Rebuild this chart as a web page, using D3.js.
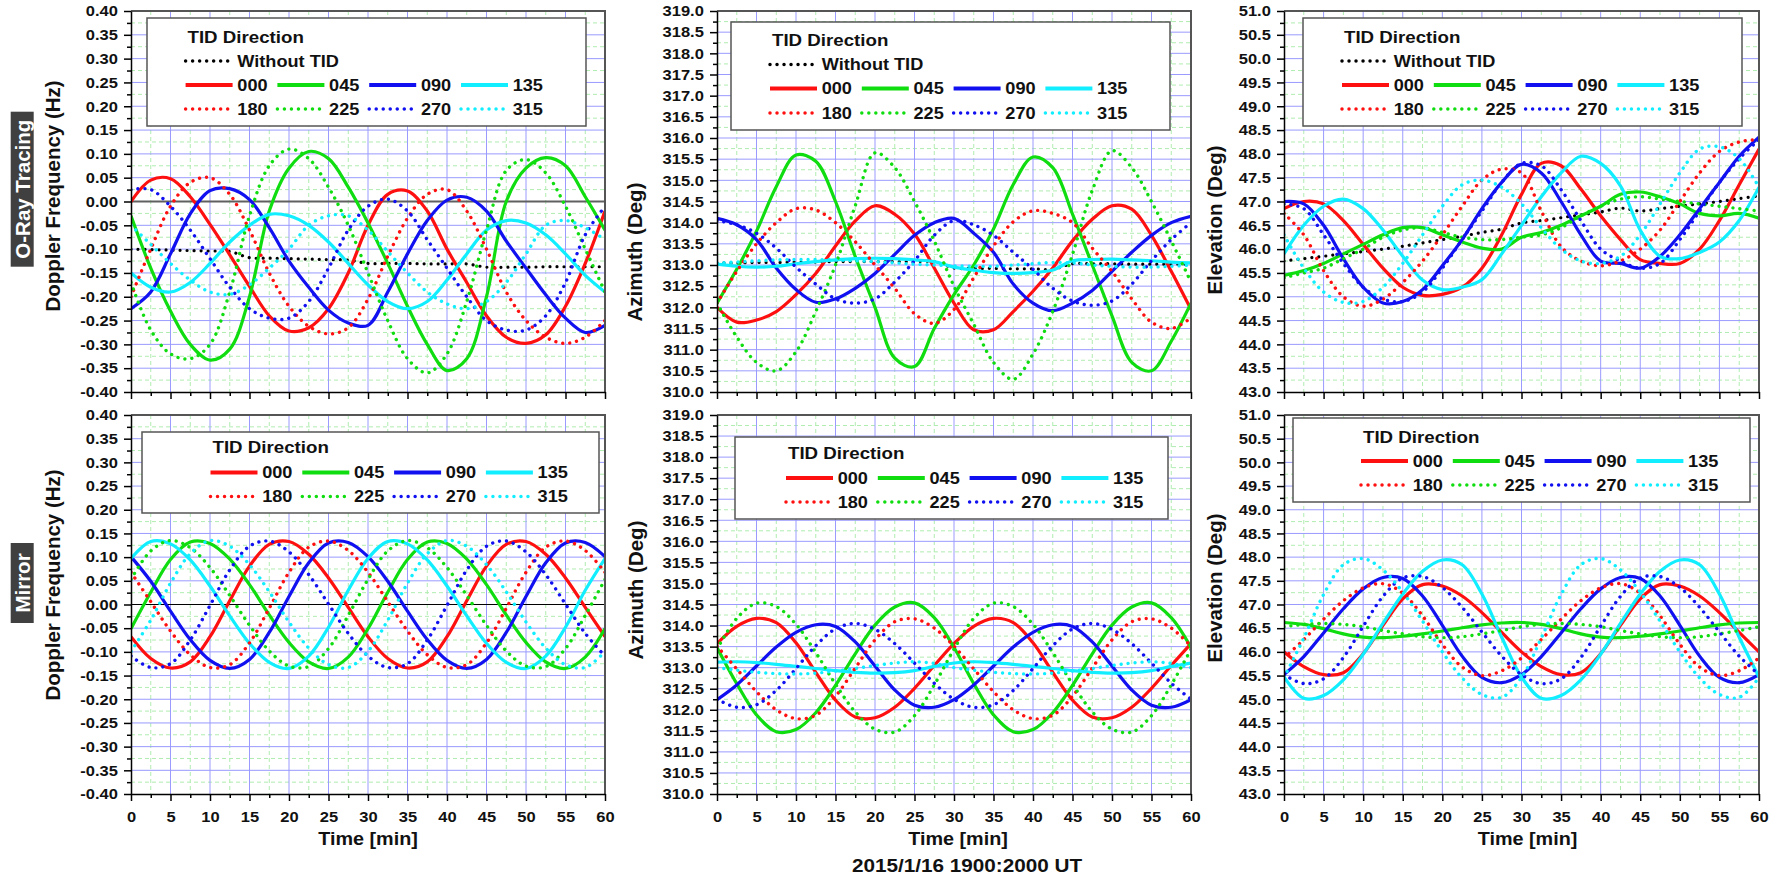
<!DOCTYPE html>
<html>
<head>
<meta charset="utf-8">
<script src="https://cdn.jsdelivr.net/npm/d3@7"></script>
<style>
  body { margin: 0; background: #fff; }
  svg { display: block; font-family: "Liberation Sans", Arial, sans-serif; font-weight: bold; }
</style>
</head>
<body>
<svg id="chart" width="1783" height="876"></svg>
<script>
// sample times (min)
const minutes = [0, 2.5, 5, 7.5, 10, 12.5, 15, 17.5, 20, 22.5, 25, 27.5, 30, 32.5, 35, 37.5, 40, 42.5, 45, 47.5, 50, 52.5, 55, 57.5, 60];
const directions = ["000", "045", "090", "135", "180", "225", "270", "315"];

// tick labels
const timeTicks = [0, 5, 10, 15, 20, 25, 30, 35, 40, 45, 50, 55, 60];
const dopplerTicks = [-0.40, -0.35, -0.30, -0.25, -0.20, -0.15, -0.10, -0.05, 0.00, 0.05, 0.10, 0.15, 0.20, 0.25, 0.30, 0.35, 0.40];
const azimuthTicks = [310.0, 310.5, 311.0, 311.5, 312.0, 312.5, 313.0, 313.5, 314.0, 314.5, 315.0, 315.5, 316.0, 316.5, 317.0, 317.5, 318.0, 318.5, 319.0];
const elevationTicks = [43.0, 43.5, 44.0, 44.5, 45.0, 45.5, 46.0, 46.5, 47.0, 47.5, 48.0, 48.5, 49.0, 49.5, 50.0, 50.5, 51.0];

// O-ray tracing, one row per direction (000 ... 315)
const rayDoppler = [
  [0.000, 0.045, 0.048, 0.010, -0.048, -0.112, -0.178, -0.240, -0.272, -0.265, -0.225, -0.150, -0.050, 0.015, 0.022, -0.020, -0.100, -0.170, -0.240, -0.285, -0.298, -0.280, -0.220, -0.130, -0.020],
  [-0.030, -0.140, -0.230, -0.300, -0.333, -0.310, -0.200, -0.020, 0.070, 0.105, 0.090, 0.030, -0.045, -0.130, -0.220, -0.300, -0.355, -0.330, -0.200, 0.000, 0.070, 0.092, 0.075, 0.010, -0.060],
  [-0.225, -0.190, -0.110, -0.026, 0.023, 0.027, 0.004, -0.055, -0.125, -0.180, -0.228, -0.255, -0.260, -0.190, -0.110, -0.040, 0.003, 0.009, -0.020, -0.083, -0.140, -0.196, -0.245, -0.275, -0.260],
  [-0.150, -0.180, -0.190, -0.170, -0.130, -0.085, -0.050, -0.027, -0.030, -0.050, -0.085, -0.130, -0.175, -0.210, -0.225, -0.210, -0.165, -0.110, -0.060, -0.040, -0.045, -0.070, -0.110, -0.155, -0.190],
  [-0.200, -0.100, -0.010, 0.040, 0.050, 0.015, -0.060, -0.150, -0.220, -0.262, -0.278, -0.265, -0.205, -0.115, -0.035, 0.015, 0.025, -0.020, -0.100, -0.190, -0.250, -0.285, -0.298, -0.285, -0.250],
  [-0.170, -0.270, -0.320, -0.330, -0.300, -0.190, -0.030, 0.075, 0.110, 0.090, 0.030, -0.050, -0.150, -0.250, -0.330, -0.360, -0.320, -0.210, -0.060, 0.065, 0.088, 0.060, -0.010, -0.100, -0.190],
  [0.025, 0.025, -0.010, -0.060, -0.120, -0.180, -0.225, -0.245, -0.245, -0.210, -0.140, -0.060, -0.010, 0.005, -0.020, -0.080, -0.140, -0.200, -0.250, -0.270, -0.270, -0.240, -0.170, -0.070, -0.010],
  [-0.050, -0.090, -0.130, -0.165, -0.190, -0.195, -0.175, -0.140, -0.100, -0.050, -0.030, -0.030, -0.060, -0.105, -0.150, -0.190, -0.215, -0.225, -0.210, -0.170, -0.110, -0.050, -0.040, -0.055, -0.080]
];
const rayDopplerNoTid = [-0.100, -0.101, -0.102, -0.103, -0.104, -0.105, -0.118, -0.119, -0.120, -0.121, -0.122, -0.123, -0.130, -0.130, -0.130, -0.131, -0.131, -0.131, -0.138, -0.138, -0.138, -0.137, -0.137, -0.137, -0.137];

const rayAzimuth = [
  [312.00, 311.65, 311.70, 311.90, 312.30, 312.80, 313.45, 314.04, 314.40, 314.20, 313.73, 312.93, 312.10, 311.47, 311.47, 311.90, 312.38, 312.93, 313.57, 314.08, 314.40, 314.32, 313.70, 312.85, 311.95],
  [312.10, 312.90, 313.80, 314.85, 315.60, 315.45, 314.50, 313.20, 312.00, 310.80, 310.60, 311.50, 312.30, 313.00, 313.85, 314.90, 315.55, 315.30, 314.20, 313.00, 311.80, 310.70, 310.50, 311.20, 312.10],
  [314.10, 313.95, 313.60, 312.93, 312.42, 312.12, 312.20, 312.45, 312.80, 313.25, 313.70, 314.00, 314.10, 313.75, 313.30, 312.55, 312.10, 311.92, 312.10, 312.40, 312.85, 313.30, 313.70, 314.00, 314.15],
  [313.02, 312.97, 312.95, 312.97, 313.03, 313.08, 313.12, 313.15, 313.16, 313.15, 313.12, 313.08, 312.95, 312.88, 312.82, 312.80, 312.82, 312.88, 313.10, 313.13, 313.14, 313.12, 313.10, 313.07, 313.05],
  [312.10, 312.85, 313.50, 314.00, 314.33, 314.30, 314.00, 313.55, 313.00, 312.45, 311.85, 311.62, 311.95, 312.70, 313.45, 314.02, 314.28, 314.22, 314.00, 313.40, 312.85, 312.20, 311.65, 311.50, 311.75],
  [312.10, 311.30, 310.70, 310.50, 310.95, 311.90, 313.00, 314.40, 315.65, 315.30, 314.50, 313.57, 312.50, 311.60, 310.70, 310.30, 310.90, 311.90, 313.25, 314.76, 315.70, 315.30, 314.50, 313.57, 312.60],
  [314.05, 313.95, 313.75, 313.40, 312.95, 312.55, 312.20, 312.10, 312.20, 312.60, 313.10, 313.70, 314.05, 313.95, 313.70, 313.30, 312.90, 312.45, 312.15, 312.05, 312.15, 312.55, 313.10, 313.60, 314.00],
  [313.05, 313.07, 313.10, 313.12, 313.13, 313.13, 313.12, 313.10, 313.08, 313.05, 313.02, 313.00, 312.98, 312.97, 312.97, 313.00, 313.03, 313.06, 313.05, 313.00, 312.97, 312.95, 312.95, 312.97, 313.00]
];
const rayAzimuthNoTid = [313.05, 313.05, 313.06, 313.06, 313.07, 313.07, 313.08, 313.08, 313.08, 313.08, 313.08, 313.08, 312.93, 312.92, 312.92, 312.91, 312.91, 312.90, 313.03, 313.03, 313.03, 313.02, 313.02, 313.02, 313.02];

const rayElevation = [
  [46.85, 47.00, 46.95, 46.60, 46.10, 45.60, 45.20, 45.03, 45.05, 45.20, 45.60, 46.30, 47.15, 47.80, 47.75, 47.26, 46.70, 46.20, 45.78, 45.70, 45.70, 46.00, 46.60, 47.35, 48.10],
  [45.45, 45.55, 45.70, 45.90, 46.10, 46.30, 46.45, 46.45, 46.30, 46.15, 46.02, 46.00, 46.25, 46.35, 46.50, 46.70, 46.90, 47.15, 47.20, 47.10, 46.95, 46.75, 46.70, 46.75, 46.65],
  [47.00, 46.95, 46.50, 45.80, 45.20, 44.87, 44.90, 45.15, 45.65, 46.20, 46.85, 47.40, 47.78, 47.60, 47.00, 46.30, 45.75, 45.70, 45.60, 45.85, 46.30, 46.85, 47.40, 47.95, 48.35],
  [45.90, 46.50, 46.90, 47.05, 46.85, 46.40, 45.85, 45.35, 45.15, 45.20, 45.36, 45.90, 46.50, 47.10, 47.60, 47.95, 47.80, 47.33, 46.40, 45.85, 45.80, 45.93, 46.15, 46.60, 47.30],
  [46.75, 46.30, 45.55, 45.00, 44.80, 44.95, 45.30, 45.75, 46.30, 46.90, 47.45, 47.68, 47.60, 46.80, 46.05, 45.75, 45.65, 45.75, 46.00, 46.40, 47.00, 47.60, 48.05, 48.25, 48.30],
  [45.40, 45.50, 45.60, 45.80, 46.00, 46.25, 46.40, 46.45, 46.35, 46.25, 46.20, 46.20, 46.25, 46.30, 46.45, 46.70, 46.90, 47.05, 47.10, 47.05, 47.00, 46.95, 46.90, 46.85, 46.80],
  [46.95, 46.85, 46.30, 45.70, 45.20, 44.95, 44.90, 45.10, 45.60, 46.20, 46.80, 47.40, 47.80, 47.75, 47.25, 46.60, 46.00, 45.75, 45.60, 45.70, 46.20, 46.80, 47.40, 47.90, 48.30],
  [46.30, 45.60, 45.10, 44.88, 44.90, 45.20, 45.70, 46.30, 46.90, 47.35, 47.45, 47.30, 46.95, 46.45, 46.00, 45.75, 45.70, 45.85, 46.30, 46.95, 47.60, 48.10, 48.15, 47.90, 47.30]
];
const rayElevationNoTid = [45.75, 45.80, 45.85, 45.90, 45.95, 46.00, 46.06, 46.13, 46.20, 46.27, 46.35, 46.42, 46.55, 46.60, 46.66, 46.72, 46.78, 46.86, 46.80, 46.85, 46.90, 46.95, 47.00, 47.06, 47.12];

// Mirror model
const mirrorDoppler = [
  [-0.068, -0.114, -0.134, -0.121, -0.068, 0.008, 0.081, 0.127, 0.133, 0.106, 0.056, -0.006, -0.068, -0.114, -0.134, -0.121, -0.068, 0.008, 0.081, 0.127, 0.133, 0.106, 0.056, -0.006, -0.068],
  [-0.051, 0.026, 0.095, 0.132, 0.129, 0.096, 0.042, -0.022, -0.080, -0.121, -0.135, -0.111, -0.051, 0.026, 0.095, 0.132, 0.129, 0.096, 0.042, -0.022, -0.080, -0.121, -0.135, -0.111, -0.051],
  [0.101, 0.049, -0.014, -0.074, -0.118, -0.135, -0.116, -0.059, 0.017, 0.088, 0.130, 0.131, 0.101, 0.049, -0.014, -0.074, -0.118, -0.135, -0.116, -0.059, 0.017, 0.088, 0.130, 0.131, 0.101],
  [0.097, 0.133, 0.128, 0.094, 0.039, -0.024, -0.082, -0.122, -0.135, -0.109, -0.048, 0.030, 0.097, 0.133, 0.128, 0.094, 0.039, -0.024, -0.082, -0.122, -0.135, -0.109, -0.048, 0.030, 0.097],
  [0.068, 0.006, -0.056, -0.106, -0.133, -0.127, -0.081, -0.008, 0.068, 0.121, 0.134, 0.114, 0.068, 0.006, -0.056, -0.106, -0.133, -0.127, -0.081, -0.008, 0.068, 0.121, 0.134, 0.114, 0.068],
  [0.053, 0.113, 0.135, 0.120, 0.078, 0.019, -0.044, -0.098, -0.130, -0.131, -0.093, -0.023, 0.053, 0.113, 0.135, 0.120, 0.078, 0.019, -0.044, -0.098, -0.130, -0.131, -0.093, -0.023, 0.053],
  [-0.109, -0.133, -0.125, -0.075, -0.002, 0.073, 0.123, 0.134, 0.111, 0.063, 0.001, -0.061, -0.109, -0.133, -0.125, -0.075, -0.002, 0.073, 0.123, 0.134, 0.111, 0.063, 0.001, -0.061, -0.109],
  [-0.099, -0.033, 0.045, 0.107, 0.135, 0.123, 0.084, 0.027, -0.037, -0.092, -0.127, -0.133, -0.099, -0.033, 0.045, 0.107, 0.135, 0.123, 0.084, 0.027, -0.037, -0.092, -0.127, -0.133, -0.099]
];

const mirrorAzimuth = [
  [313.57, 313.98, 314.17, 314.07, 313.59, 312.89, 312.23, 311.83, 311.81, 312.06, 312.51, 313.05, 313.57, 313.98, 314.17, 314.07, 313.59, 312.89, 312.23, 311.83, 311.81, 312.06, 312.51, 313.05, 313.57],
  [313.48, 312.62, 311.88, 311.48, 311.53, 311.93, 312.58, 313.33, 314.01, 314.44, 314.54, 314.19, 313.48, 312.62, 311.88, 311.48, 311.53, 311.93, 312.58, 313.33, 314.01, 314.44, 314.54, 314.19, 313.48],
  [312.24, 312.59, 313.04, 313.49, 313.84, 314.02, 313.98, 313.61, 313.04, 312.47, 312.11, 312.06, 312.24, 312.59, 313.04, 313.49, 313.84, 314.02, 313.98, 313.61, 313.04, 312.47, 312.11, 312.06, 312.24],
  [313.13, 313.14, 313.12, 313.08, 313.03, 312.98, 312.93, 312.89, 312.87, 312.88, 312.93, 313.03, 313.11, 313.14, 313.12, 313.08, 313.03, 312.98, 312.93, 312.89, 312.87, 312.88, 312.93, 313.03, 313.11],
  [313.51, 312.97, 312.43, 312.00, 311.79, 311.87, 312.32, 312.99, 313.66, 314.09, 314.16, 313.94, 313.51, 312.97, 312.43, 312.00, 311.79, 311.87, 312.32, 312.99, 313.66, 314.09, 314.16, 313.94, 313.51],
  [313.44, 314.17, 314.53, 314.45, 314.03, 313.36, 312.61, 311.95, 311.54, 311.47, 311.86, 312.59, 313.44, 314.17, 314.53, 314.45, 314.03, 313.36, 312.61, 311.95, 311.54, 311.47, 311.86, 312.59, 313.44],
  [312.25, 312.06, 312.12, 312.46, 312.98, 313.52, 313.92, 314.05, 313.91, 313.57, 313.11, 312.63, 312.25, 312.06, 312.12, 312.46, 312.98, 313.52, 313.92, 314.05, 313.91, 313.57, 313.11, 312.63, 312.25],
  [313.00, 312.94, 312.89, 312.86, 312.85, 312.87, 312.92, 312.98, 313.05, 313.11, 313.14, 313.10, 313.00, 312.94, 312.89, 312.86, 312.85, 312.87, 312.92, 312.98, 313.05, 313.11, 313.14, 313.10, 313.00]
];

const mirrorElevation = [
  [46.00, 45.69, 45.52, 45.56, 45.96, 46.56, 47.12, 47.42, 47.39, 47.18, 46.83, 46.41, 46.00, 45.69, 45.52, 45.56, 45.96, 46.56, 47.12, 47.42, 47.39, 47.18, 46.83, 46.41, 46.00],
  [46.62, 46.58, 46.49, 46.38, 46.31, 46.30, 46.33, 46.38, 46.44, 46.51, 46.57, 46.61, 46.62, 46.58, 46.49, 46.38, 46.31, 46.30, 46.33, 46.38, 46.44, 46.51, 46.57, 46.61, 46.62],
  [45.52, 45.90, 46.40, 46.91, 47.33, 47.57, 47.55, 47.18, 46.56, 45.91, 45.46, 45.35, 45.52, 45.90, 46.40, 46.91, 47.33, 47.57, 47.55, 47.18, 46.56, 45.91, 45.46, 45.35, 45.52],
  [45.47, 45.02, 45.08, 45.41, 45.95, 46.60, 47.22, 47.70, 47.94, 47.84, 47.22, 46.31, 45.47, 45.02, 45.08, 45.41, 45.95, 46.60, 47.22, 47.70, 47.94, 47.84, 47.22, 46.31, 45.47],
  [45.87, 46.26, 46.69, 47.08, 47.35, 47.44, 47.24, 46.76, 46.16, 45.68, 45.50, 45.60, 45.87, 46.26, 46.69, 47.08, 47.35, 47.44, 47.24, 46.76, 46.16, 45.68, 45.50, 45.60, 45.87],
  [46.53, 46.58, 46.60, 46.58, 46.53, 46.45, 46.38, 46.32, 46.30, 46.32, 46.38, 46.45, 46.53, 46.58, 46.60, 46.58, 46.53, 46.45, 46.38, 46.32, 46.30, 46.32, 46.38, 46.45, 46.53],
  [45.52, 45.33, 45.43, 45.88, 46.54, 47.17, 47.56, 47.59, 47.36, 46.94, 46.42, 45.91, 45.52, 45.33, 45.43, 45.88, 46.54, 47.17, 47.56, 47.59, 47.36, 46.94, 46.42, 45.91, 45.52],
  [45.46, 46.29, 47.21, 47.84, 47.97, 47.73, 47.26, 46.65, 46.00, 45.45, 45.10, 45.04, 45.46, 46.29, 47.21, 47.84, 47.97, 47.73, 47.26, 46.65, 46.00, 45.45, 45.10, 45.04, 45.46]
];

// ---- layout / style ----
const svg = d3.select("#chart");
const SX = 1.1; // the figure's text is a bit wide
const cols = [[131, 605], [717, 1191], [1284, 1759]];
const rows = [[11, 392], [415, 794]];
const lineColors = ["#ff1010", "#10dd10", "#1010f0", "#10eeff"];

const panels = [
  { col: 0, row: 0, series: rayDoppler, noTid: rayDopplerNoTid, ticks: dopplerTicks, digits: 2,
    title: "Doppler Frequency (Hz)", titlePos: [52, 196], zero: { color: "#606060", width: 2 },
    legend: { x: 147, y: 18, w: 439, h: 108, tx: 187.5, ty: 37, lx: 185.6, rowY: [61, 85, 109] } },
  { col: 1, row: 0, series: rayAzimuth, noTid: rayAzimuthNoTid, ticks: azimuthTicks, digits: 1,
    title: "Azimuth (Deg)", titlePos: [634, 252],
    legend: { x: 731, y: 22, w: 439, h: 108, tx: 772, ty: 40.5, lx: 770, rowY: [64.5, 88.5, 113] } },
  { col: 2, row: 0, series: rayElevation, noTid: rayElevationNoTid, ticks: elevationTicks, digits: 1,
    title: "Elevation (Deg)", titlePos: [1214, 220],
    legend: { x: 1303, y: 18, w: 439, h: 108, tx: 1344, ty: 37, lx: 1342, rowY: [61, 85, 109] } },
  { col: 0, row: 1, series: mirrorDoppler, ticks: dopplerTicks, digits: 2,
    title: "Doppler Frequency (Hz)", titlePos: [52, 585], zero: { color: "#000", width: 1 },
    legend: { x: 142, y: 432, w: 457, h: 81, tx: 212.5, ty: 447.5, lx: 210.5, rowY: [472.5, 496.5] } },
  { col: 1, row: 1, series: mirrorAzimuth, ticks: azimuthTicks, digits: 1,
    title: "Azimuth (Deg)", titlePos: [635, 590],
    legend: { x: 735, y: 437, w: 433, h: 82, tx: 788, ty: 453.5, lx: 786, rowY: [478, 502] } },
  { col: 2, row: 1, series: mirrorElevation, ticks: elevationTicks, digits: 1,
    title: "Elevation (Deg)", titlePos: [1214, 588],
    legend: { x: 1293, y: 418, w: 457, h: 84, tx: 1363, ty: 437, lx: 1361, rowY: [461, 485] } }
];

function txt(g, x, y, s, size, anchor, sx) {
  return g.append("text")
    .attr("transform", `translate(${x},${y}) scale(${sx || SX},1)`)
    .attr("text-anchor", anchor || "start")
    .attr("dominant-baseline", "central")
    .style("font-size", size + "px")
    .attr("fill", "#111")
    .text(s);
}

function styleLine(sel, color, dotted, w) {
  sel.attr("fill", "none").attr("stroke", color)
    .attr("stroke-width", w)
    .attr("stroke-linecap", dotted ? "round" : "butt")
    .attr("stroke-dasharray", dotted ? "0.01,7" : null);
}

function drawLegend(g, L, withNoTid) {
  g.append("rect").attr("x", L.x).attr("y", L.y).attr("width", L.w).attr("height", L.h)
    .attr("fill", "#fff").attr("stroke", "#555").attr("stroke-width", 1.5);
  txt(g, L.tx, L.ty, "TID Direction", 17);
  let ys = L.rowY.slice();
  if (withNoTid) {
    g.append("line").attr("x1", L.lx).attr("x2", L.lx + 47).attr("y1", ys[0]).attr("y2", ys[0])
      .call(styleLine, "#000", true, 3.5);
    txt(g, L.lx + 51.7, ys[0], "Without TID", 16.5);
    ys = ys.slice(1);
  }
  directions.forEach((d, i) => {
    const r = Math.floor(i / 4), c = i % 4;
    const x = L.lx + c * 91.8;
    g.append("line").attr("x1", x).attr("x2", x + 47).attr("y1", ys[r]).attr("y2", ys[r])
      .call(styleLine, lineColors[c], r === 1, r === 1 ? 3.5 : 4);
    txt(g, x + 51.7, ys[r], d, 16.5);
  });
}

function styleAxis(ax) {
  ax.attr("font-size", null).attr("font-family", null);
  ax.selectAll("line, path").attr("stroke", "#000").attr("stroke-width", 1.5);
  ax.selectAll("text").style("font-size", "15px").attr("fill", "#111")
    .attr("transform", `scale(${SX},1)`);
}

panels.forEach((p, pi) => {
  const [x0, x1] = cols[p.col], [y0, y1] = rows[p.row];
  const x = d3.scaleLinear().domain([0, 60]).range([x0, x1]);
  const y = d3.scaleLinear().domain(d3.extent(p.ticks)).range([y1, y0]);
  const g = svg.append("g");

  const minorX = d3.pairs(timeTicks, (a, b) => (a + b) / 2);
  const minorY = d3.pairs(p.ticks, (a, b) => (a + b) / 2);
  const majorX = timeTicks.slice(1, -1);
  const majorY = p.ticks.slice(1, -1);

  // grid
  const grid = g.append("g");
  grid.selectAll(".mx").data(minorX).join("line")
    .attr("x1", d => x(d)).attr("x2", d => x(d)).attr("y1", y0).attr("y2", y1)
    .attr("stroke", "#b0ecb0").attr("stroke-dasharray", "4,3");
  grid.selectAll(".my").data(minorY).join("line")
    .attr("y1", d => y(d)).attr("y2", d => y(d)).attr("x1", x0).attr("x2", x1)
    .attr("stroke", "#b0ecb0").attr("stroke-dasharray", "4,3");
  grid.selectAll(".Mx").data(majorX).join("line")
    .attr("x1", d => x(d)).attr("x2", d => x(d)).attr("y1", y0).attr("y2", y1)
    .attr("stroke", "#9a9aff").attr("stroke-width", 1);
  grid.selectAll(".My").data(majorY).join("line")
    .attr("y1", d => y(d)).attr("y2", d => y(d)).attr("x1", x0).attr("x2", x1)
    .attr("stroke", "#9a9aff").attr("stroke-width", 1);

  if (p.zero) {
    g.append("line").attr("x1", x0).attr("x2", x1).attr("y1", y(0)).attr("y2", y(0))
      .attr("stroke", p.zero.color).attr("stroke-width", p.zero.width);
  }

  // curves
  g.append("clipPath").attr("id", "clip" + pi).append("rect")
    .attr("x", x0).attr("y", y0).attr("width", x1 - x0).attr("height", y1 - y0);
  const plot = g.append("g").attr("clip-path", `url(#clip${pi})`);
  const line = d3.line().x((d, j) => x(minutes[j])).y(d => y(d))
    .curve(d3.curveCatmullRom.alpha(0.5));
  if (p.noTid) {
    plot.append("path").attr("d", line(p.noTid)).call(styleLine, "#000", true, 3.2);
  }
  p.series.forEach((s, i) => {
    plot.append("path").attr("d", line(s)).call(styleLine, lineColors[i % 4], i >= 4, i >= 4 ? 3.4 : 3.2);
  });

  // frame (top / right)
  g.append("path").attr("d", `M${x0},${y0}H${x1}V${y1}`)
    .attr("fill", "none").attr("stroke", "#555").attr("stroke-width", 2);

  // axes
  const fmt = d => d.toFixed(p.digits);
  g.append("g").attr("transform", `translate(${x0},0)`)
    .call(d3.axisLeft(y).tickValues(minorY).tickSize(4).tickSizeOuter(0).tickFormat(""))
    .call(a => a.select(".domain").remove())
    .call(styleAxis);
  g.append("g").attr("transform", `translate(${x0},0)`)
    .call(d3.axisLeft(y).tickValues(p.ticks).tickSize(7).tickSizeOuter(0).tickPadding(5).tickFormat(fmt))
    .call(styleAxis);
  g.append("g").attr("transform", `translate(0,${y1})`)
    .call(d3.axisBottom(x).tickValues(minorX).tickSize(4).tickSizeOuter(0).tickFormat(""))
    .call(a => a.select(".domain").remove())
    .call(styleAxis);
  g.append("g").attr("transform", `translate(0,${y1})`)
    .call(d3.axisBottom(x).tickValues(timeTicks).tickSize(7).tickSizeOuter(0).tickPadding(10)
      .tickFormat(p.row === 1 ? d => d : () => ""))
    .call(styleAxis);

  // y title
  g.append("text")
    .attr("transform", `translate(${p.titlePos[0]},${p.titlePos[1]}) rotate(-90)`)
    .attr("text-anchor", "middle").attr("dominant-baseline", "central")
    .style("font-size", "20.5px").attr("fill", "#111").text(p.title);

  if (p.row === 1) {
    txt(g, (x0 + x1) / 2 + (p.col === 2 ? 6 : p.col === 1 ? 4 : 0), 839, "Time [min]", 18, "middle");
  }

  drawLegend(g, p.legend, !!p.noTid);
});

// row tags
const tags = [
  { label: "O-Ray Tracing", y: 111.7, h: 155 },
  { label: "Mirror", y: 543, h: 80 }
];
tags.forEach(t => {
  svg.append("rect").attr("x", 10.7).attr("y", t.y).attr("width", 23).attr("height", t.h).attr("fill", "#404040");
  svg.append("text")
    .attr("transform", `translate(22.5,${t.y + t.h / 2}) rotate(-90)`)
    .attr("text-anchor", "middle").attr("dominant-baseline", "central")
    .style("font-size", "20.5px").attr("fill", "#fff").text(t.label);
});

txt(svg, 967, 865, "2015/1/16 1900:2000 UT", 18.5, "middle", 1.12);
</script>
</body>
</html>
